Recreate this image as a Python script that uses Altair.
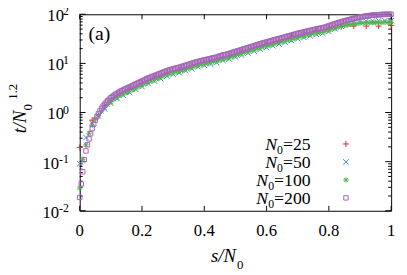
import altair as alt
import pandas as pd

# ---------------- data ----------------
n0_values = [25, 50, 100, 200]
legend_numbers = ["25", "50", "100", "200"]

# t/N0^1.2 at s/N0 = k/N0, k = 0..N0
red_t = [0.195, 0.70, 1.40, 2.2, 2.95, 3.95, 5.0, 6.3, 7.35, 8.9,
         10.4, 12.0, 14.1, 17.0, 20.4, 24.0, 28.2, 35.5, 41.7, 46.8,
         52.5, 56.2, 57.5, 57.5, 57.5, 58.9]

blue_t = [0.091, 0.31, 0.60, 0.85, 1.18, 1.55, 1.92, 2.25, 2.57, 2.95,
          3.38, 3.89, 4.36, 4.89, 5.49, 6.02, 6.45, 7.07, 7.75, 8.50,
          9.14, 9.74, 10.4, 11.5, 12.3, 13.5, 14.8, 16.2, 17.7, 19.5,
          21.1, 22.9, 24.8, 26.9, 29.1, 31.6, 33.8, 36.3, 38.9, 41.2,
          44.6, 50.5, 57.0, 63.5, 68.5, 71.5, 73.0, 73.5, 74.0, 74.0,
          74.0]

green_t = [0.029, 0.112, 0.22, 0.38, 0.55, 0.74, 0.88, 1.06, 1.25, 1.44,
           1.65, 1.86, 2.04, 2.23, 2.39, 2.56, 2.74, 2.94, 3.15, 3.38,
           3.62, 3.88, 4.16, 4.40, 4.66, 4.94, 5.23, 5.54, 5.87, 6.15,
           6.44, 6.66, 6.89, 7.22, 7.56, 7.91, 8.29, 8.68, 9.09, 9.39,
           9.77, 10.0, 10.4, 10.8, 11.2, 11.7, 12.3, 12.6, 13.1, 13.8,
           14.4, 15.1, 15.8, 16.6, 17.3, 18.1, 19.0, 19.9, 20.8, 21.7,
           22.6, 23.5, 24.5, 25.5, 26.5, 27.6, 28.7, 29.9, 31.2, 32.5,
           33.8, 35.0, 36.2, 37.5, 38.8, 40.2, 41.6, 42.8, 44.0, 45.6,
           47.7, 50.0, 52.3, 54.5, 56.5, 58.5, 60.5, 62.0, 63.5, 64.8,
           65.8, 66.6, 67.2, 67.6, 68.0, 68.2, 68.4, 68.5, 68.6, 68.6,
           68.7]

purple_t = [0.0187, 0.035, 0.062, 0.11, 0.165, 0.22, 0.29, 0.37, 0.47, 0.58,
            0.70, 0.82, 0.95, 1.08, 1.22, 1.35, 1.48, 1.62, 1.74, 1.87,
            2.00, 2.12, 2.24, 2.35, 2.45, 2.57, 2.69, 2.78, 2.88, 2.98,
            3.08, 3.19, 3.30, 3.42, 3.54, 3.67, 3.80, 3.93, 4.07, 4.21,
            4.36, 4.51, 4.67, 4.84, 5.01, 5.15, 5.30, 5.45, 5.61, 5.78,
            5.95, 6.12, 6.29, 6.48, 6.68, 6.87, 7.07, 7.24, 7.40, 7.58,
            7.75, 7.88, 8.02, 8.16, 8.30, 8.49, 8.69, 8.90, 9.11, 9.32,
            9.53, 9.76, 9.98, 10.2, 10.5, 10.7, 10.9, 11.1, 11.3, 11.5,
            11.8, 11.9, 12.1, 12.3, 12.5, 12.8, 13.0, 13.2, 13.4, 13.8,
            14.1, 14.4, 14.8, 15.0, 15.2, 15.5, 15.8, 16.2, 16.6, 17.0,
            17.4, 17.8, 18.1, 18.6, 19.0, 19.5, 19.9, 20.4, 20.8, 21.3,
            21.8, 22.3, 22.8, 23.4, 24.0, 24.5, 25.1, 25.6, 26.1, 26.7,
            27.2, 27.8, 28.3, 28.9, 29.5, 30.1, 30.7, 31.3, 31.9, 32.6,
            33.3, 33.9, 34.6, 35.3, 36.0, 36.7, 37.5, 38.3, 39.1, 39.9,
            40.7, 41.4, 42.1, 42.8, 43.6, 44.4, 45.1, 45.9, 46.7, 47.6,
            48.4, 49.2, 50.1, 50.8, 51.5, 52.3, 53.0, 54.0, 55.0, 56.5,
            58.0, 59.5, 61.0, 62.5, 64.0, 65.5, 67.0, 68.5, 70.0, 71.5,
            73.0, 74.5, 76.0, 77.5, 79.0, 80.5, 82.0, 83.5, 85.0, 86.2,
            87.4, 88.6, 89.8, 91.0, 92.0, 93.0, 94.0, 94.8, 95.6, 96.4,
            97.0, 97.6, 98.1, 98.5, 98.9, 99.2, 99.5, 99.7, 99.8, 99.9,
            100.0]

x_ticks = [0, 0.2, 0.4, 0.6, 0.8, 1]
x_tick_labels = ["0", "0.2", "0.4", "0.6", "0.8", "1"]
y_major = [0.01, 0.1, 1, 10, 100]
y_exponents = ["-2", "-1", "0", "1", "2"]
y_minor = [0.02, 0.03, 0.04, 0.05, 0.06, 0.07, 0.08, 0.09,
           0.2, 0.3, 0.4, 0.5, 0.6, 0.7, 0.8, 0.9,
           2, 3, 4, 5, 6, 7, 8, 9,
           20, 30, 40, 50, 60, 70, 80, 90]

colors = ["#e8272a", "#4088c4", "#52b34f", "#a565b8"]

# ---------------- chart ----------------
W, H = 317, 200
FONT = "Liberation Serif"
xs = alt.Scale(domain=[0, 1], nice=False, zero=False)
ys = alt.Scale(type="log", domain=[0.01, 100], nice=False)

PLUS = "M-1,0L1,0M0,-1L0,1"
CROSS = "M-1,-1L1,1M-1,1L1,-1"
STAR = "M-1,0L1,0M0,-1L0,1M-0.75,-0.75L0.75,0.75M-0.75,0.75L0.75,-0.75"
shapes = [PLUS, CROSS, STAR, "square"]
sizes = [36, 30, 30, 20]


def series_df(vals, n0):
    return pd.DataFrame({"s": [k / n0 for k in range(len(vals))], "t": vals})


X = alt.X("s:Q", scale=xs, axis=None)
Y = alt.Y("t:Q", scale=ys, axis=None)
one = pd.DataFrame({"a": [0]})

xt = pd.DataFrame({"s": x_ticks, "lab": x_tick_labels})
bottom_ticks = alt.Chart(xt).mark_rule(color="black", strokeWidth=1).encode(
    x=X, y=alt.value(H), y2=alt.value(H - 5))
top_ticks = alt.Chart(xt).mark_rule(color="black", strokeWidth=1).encode(
    x=X, y=alt.value(0), y2=alt.value(5))
x_labels = alt.Chart(xt).mark_text(
    align="center", baseline="alphabetic", font=FONT, fontSize=17,
    color="black").encode(x=X, y=alt.value(H + 26), text="lab:N")

ymaj = pd.DataFrame({"t": y_major, "e": y_exponents})
ymin = pd.DataFrame({"t": y_minor})
left_major = alt.Chart(ymaj).mark_rule(color="black", strokeWidth=1).encode(
    y=Y, x=alt.value(0), x2=alt.value(6))
right_major = alt.Chart(ymaj).mark_rule(color="black", strokeWidth=1).encode(
    y=Y, x=alt.value(W), x2=alt.value(W - 6))
left_minor = alt.Chart(ymin).mark_rule(color="black", strokeWidth=1).encode(
    y=Y, x=alt.value(0), x2=alt.value(3))
right_minor = alt.Chart(ymin).mark_rule(color="black", strokeWidth=1).encode(
    y=Y, x=alt.value(W), x2=alt.value(W - 3))

series_layers = []
for vals, n0, shp, col, sz in zip([red_t, blue_t, green_t, purple_t], n0_values,
                                  shapes, colors, sizes):
    series_layers.append(
        alt.Chart(series_df(vals, n0)).mark_point(
            shape=shp, filled=False, color=col, size=sz, strokeWidth=1,
            opacity=1, clip=False).encode(x=X, y=Y))

# y tick labels 10^k
ylab_base = alt.Chart(ymaj).transform_calculate(
    lx="-16 - 5 * (length(datum.e) - 1)").mark_text(
    text="10", align="right", baseline="alphabetic", dy=7, font=FONT,
    fontSize=17, color="black").encode(
    y=Y, x=alt.X("lx:Q", scale=None, axis=None))
ylab_exp = alt.Chart(ymaj).mark_text(
    align="right", baseline="alphabetic", dy=1, font=FONT, fontSize=12,
    color="black").encode(y=Y, x=alt.value(-11), text="e:N")


def txt(text, x, y, size, italic=False, align="left", angle=0):
    kw = dict(text=text, align=align, baseline="alphabetic", font=FONT,
              fontSize=size, color="black")
    if italic:
        kw["fontStyle"] = "italic"
    if angle:
        kw["angle"] = angle
    return alt.Chart(one).mark_text(**kw).encode(x=alt.value(x), y=alt.value(y))


xtitle = [txt("s/N", 159, 252, 19, italic=True, align="right"),
          txt("0", 160, 259, 13)]
ytitle = [txt("t/N", -55, 98, 19, italic=True, align="right", angle=270),
          txt("0", -49, 98, 13, angle=270),
          txt("1.2", -64, 87, 13, angle=270)]
panel = [txt("(a)", 9, 26, 20)]

# legend
leg = pd.DataFrame({"num": legend_numbers, "row": [0, 1, 2, 3]})
leg_base = alt.Chart(leg).transform_calculate(
    ly="132 + 18.3 * datum.row",
    lab="'=' + datum.num",
    sx="235 - 10.2 - 9 * length(datum.num)",
    nx="235 - 10.2 - 9 * length(datum.num) - 6")
leg_eq = leg_base.mark_text(align="right", baseline="alphabetic", dy=6,
                            font=FONT, fontSize=18, color="black").encode(
    x=alt.value(235), y=alt.Y("ly:Q", scale=None, axis=None), text="lab:N")
leg_sub = leg_base.mark_text(align="right", baseline="alphabetic", dy=10,
                             font=FONT, fontSize=12, color="black").encode(
    x=alt.X("sx:Q", scale=None, axis=None), y=alt.Y("ly:Q", scale=None, axis=None),
    text=alt.value("0"))
leg_n = leg_base.mark_text(align="right", baseline="alphabetic", dy=6,
                           font=FONT, fontSize=18, fontStyle="italic",
                           color="black").encode(
    x=alt.X("nx:Q", scale=None, axis=None), y=alt.Y("ly:Q", scale=None, axis=None),
    text=alt.value("N"))
leg_syms = []
for i, (shp, col, sz) in enumerate(zip(shapes, colors, sizes)):
    leg_syms.append(alt.Chart(one).mark_point(
        shape=shp, filled=False, color=col, size=sz, strokeWidth=1,
        opacity=1).encode(x=alt.value(271), y=alt.value(132 + 18.3 * i)))

chart = alt.layer(
    bottom_ticks, top_ticks, left_major, right_major, left_minor, right_minor,
    *series_layers, x_labels, ylab_base, ylab_exp, *xtitle, *ytitle, *panel,
    leg_eq, leg_sub, leg_n, *leg_syms
).properties(
    width=W, height=H,
    autosize=alt.AutoSizeParams(type="none"),
    padding={"left": 73, "top": 4, "right": 8, "bottom": 63},
    background="white",
).configure_view(stroke="black", strokeWidth=1)

chart.save("out.html", embed_options={"renderer": "svg", "actions": False})
